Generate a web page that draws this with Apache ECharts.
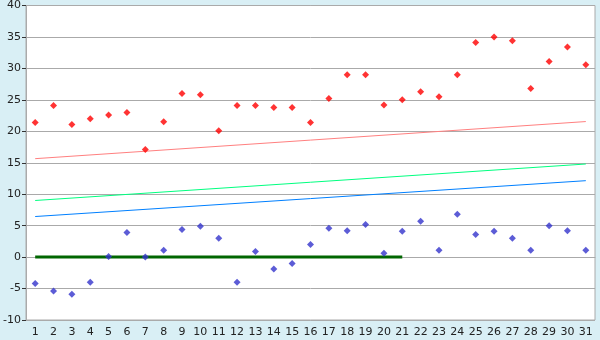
<!DOCTYPE html>
<html><head><meta charset="utf-8">
<script src="https://cdn.jsdelivr.net/npm/echarts@6/dist/echarts.min.js"></script>
<style>html,body{margin:0;padding:0;background:#d9eff5;}#c{width:600px;height:340px;}</style>
</head><body><div id="c"></div>
<script>
const categories = Array.from({length:31},(_,i)=>String(i+1));
const redPoints = [21.4,24.1,21.1,22.0,22.6,23.0,17.1,21.5,26.0,25.8,20.1,24.1,24.1,23.8,23.8,21.4,25.2,29.0,29.0,24.2,25.0,26.3,25.5,29.0,34.1,35.0,34.4,26.8,31.1,33.4,30.6];
const bluePoints = [-4.2,-5.4,-5.9,-4.0,0.1,3.9,0.0,1.1,4.4,4.9,3.0,-4.0,0.9,-1.9,-1.0,2.0,4.6,4.2,5.2,0.6,4.1,5.7,1.1,6.8,3.6,4.1,3.0,1.1,5.0,4.2,1.1];
const redTrend = [['1',15.65],['31',21.55]];
const greenTrend = [['1',9.0],['31',14.8]];
const blueTrend = [['1',6.45],['31',12.15]];
const zeroLine = [['1',0],['21',0]];
const yTicks = {min:-10,max:40,interval:5};

const chart = echarts.init(document.getElementById('c'));
const font = 'DejaVu Sans';
chart.setOption({
  backgroundColor:'#d9eff5',
  animation:false,
  grid:{left:26,right:5,top:5,bottom:20,show:true,backgroundColor:'#ffffff',borderColor:'#aaaaaa',borderWidth:1},
  xAxis:{type:'category',data:categories,boundaryGap:true,
    axisLine:{lineStyle:{color:'#aaaaaa'}},
    axisTick:{alignWithLabel:true,length:5,lineStyle:{color:'#333'}},
    axisLabel:{color:'#222',fontFamily:font,fontSize:11,margin:7,interval:0},
    splitLine:{show:false}},
  yAxis:{type:'value',min:yTicks.min,max:yTicks.max,interval:yTicks.interval,
    axisLine:{show:true,lineStyle:{color:'#aaaaaa'}},
    axisTick:{show:true,length:4,lineStyle:{color:'#333'}},
    axisLabel:{color:'#222',fontFamily:font,fontSize:11,margin:5},
    splitLine:{lineStyle:{color:'#aaaaaa'}}},
  series:[
    {type:'line',data:redTrend,symbol:'none',lineStyle:{color:'#ff8080',width:1},z:2},
    {type:'line',data:greenTrend,symbol:'none',lineStyle:{color:'#00ff80',width:1},z:2},
    {type:'line',data:blueTrend,symbol:'none',lineStyle:{color:'#0080ff',width:1},z:2},
    {type:'line',data:zeroLine,symbol:'none',lineStyle:{color:'#006600',width:3},z:3},
    {type:'scatter',data:redPoints,symbol:'diamond',symbolSize:7,itemStyle:{color:'#ff0000'},z:4},
    {type:'scatter',data:bluePoints,symbol:'diamond',symbolSize:7,itemStyle:{color:'#3333cc'},z:4}
  ]
});
</script></body></html>
